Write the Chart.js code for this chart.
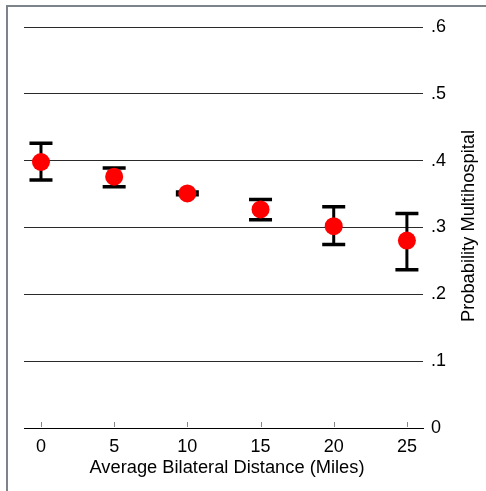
<!DOCTYPE html>
<html lang="en">
<head>
    <meta charset="UTF-8">
    <title>Probability Multihospital by Distance</title>
    <style>
        html, body { margin: 0; padding: 0; background: #fff; }
        #wrap { width: 486px; height: 491px; }
    </style>
    <script src="https://cdn.jsdelivr.net/npm/chart.js@4/dist/chart.umd.min.js"></script>
</head>
<body>
    <div id="wrap">
        <canvas id="distChart" width="486" height="491"></canvas>
    </div>
    <script>
        // average bilateral distance (miles) and estimated probability with CI
        const distance = [0, 5, 10, 15, 20, 25];
        const prob = [0.398, 0.376, 0.351, 0.327, 0.302, 0.2805];
        const ciLow = [0.371, 0.361, 0.349, 0.3115, 0.2745, 0.2366];
        const ciHigh = [0.426, 0.389, 0.353, 0.342, 0.331, 0.321];

        const xTicks = [0, 5, 10, 15, 20, 25];
        const yTicks = [0, 0.1, 0.2, 0.3, 0.4, 0.5, 0.6];

        const xTitle = 'Average Bilateral Distance (Miles)';
        const yTitle = 'Probability Multihospital';

        const FONT = "'Liberation Sans', Arial, sans-serif";

        const decorations = {
            id: 'decorations',
            beforeDraw(chart) {
                const ctx = chart.ctx;
                // outer graph frame (top and left edges)
                ctx.save();
                ctx.strokeStyle = '#7d838b';
                ctx.lineWidth = 2;
                ctx.beginPath();
                ctx.moveTo(7, chart.height);
                ctx.lineTo(7, 6);
                ctx.lineTo(chart.width, 6);
                ctx.stroke();
                ctx.restore();
            },
            beforeDatasetsDraw(chart) {
                const ctx = chart.ctx;
                const xs = chart.scales.x;
                const ys = chart.scales.y;
                ctx.save();
                ctx.strokeStyle = '#000';
                distance.forEach((d, i) => {
                    const px = xs.getPixelForValue(d);
                    const lo = ys.getPixelForValue(ciLow[i]);
                    const hi = ys.getPixelForValue(ciHigh[i]);
                    ctx.lineWidth = 3;
                    ctx.beginPath();
                    ctx.moveTo(px, lo);
                    ctx.lineTo(px, hi);
                    ctx.stroke();
                    ctx.lineWidth = 3.5;
                    ctx.beginPath();
                    ctx.moveTo(px - 11.5, lo);
                    ctx.lineTo(px + 11.5, lo);
                    ctx.moveTo(px - 11.5, hi);
                    ctx.lineTo(px + 11.5, hi);
                    ctx.stroke();
                });
                ctx.restore();
            },
            afterDraw(chart) {
                const ctx = chart.ctx;
                const xs = chart.scales.x;
                const area = chart.chartArea;
                ctx.save();
                // short tick marks pointing up into the plot
                ctx.strokeStyle = '#888';
                ctx.lineWidth = 1;
                xTicks.forEach(v => {
                    const px = Math.round(xs.getPixelForValue(v)) + 0.5;
                    ctx.beginPath();
                    ctx.moveTo(px, area.bottom - 1);
                    ctx.lineTo(px, area.bottom - 6);
                    ctx.stroke();
                });
                // axis titles
                ctx.fillStyle = '#000';
                ctx.font = '18.3px ' + FONT;
                ctx.textAlign = 'center';
                ctx.textBaseline = 'middle';
                ctx.fillText(xTitle, 227, 468);
                ctx.translate(469, 226);
                ctx.rotate(-Math.PI / 2);
                ctx.fillText(yTitle, 0, 0);
                ctx.restore();
            }
        };

        new Chart(document.getElementById('distChart'), {
            type: 'scatter',
            data: {
                datasets: [{
                    data: distance.map((d, i) => ({ x: d, y: prob[i] })),
                    backgroundColor: '#ff0000',
                    borderWidth: 0,
                    pointRadius: 9,
                    pointHoverRadius: 9,
                    clip: false
                }]
            },
            options: {
                responsive: false,
                animation: false,
                layout: { padding: { left: 24, top: 27, right: 0, bottom: 0 } },
                plugins: {
                    legend: { display: false },
                    tooltip: { enabled: false }
                },
                scales: {
                    x: {
                        type: 'linear',
                        min: -1.16,
                        max: 26.1,
                        afterBuildTicks: s => { s.ticks = xTicks.map(v => ({ value: v })); },
                        afterFit: s => { s.height = 63; },
                        grid: { display: false, drawTicks: false },
                        border: { display: true, color: '#000', width: 1 },
                        ticks: {
                            padding: 8,
                            color: '#000',
                            font: { size: 18, family: FONT },
                            callback: v => String(v)
                        }
                    },
                    y: {
                        type: 'linear',
                        position: 'right',
                        min: 0,
                        max: 0.6,
                        afterBuildTicks: s => { s.ticks = yTicks.map(v => ({ value: v })); },
                        afterFit: s => { s.width = 63; },
                        grid: { color: '#2a2a2a', lineWidth: 1, drawTicks: false },
                        border: { display: false },
                        ticks: {
                            padding: 8,
                            color: '#000',
                            font: { size: 18, family: FONT },
                            callback: v => v === 0 ? '0' : v.toFixed(1).replace(/^0/, '')
                        }
                    }
                }
            },
            plugins: [decorations]
        });
    </script>
</body>
</html>
